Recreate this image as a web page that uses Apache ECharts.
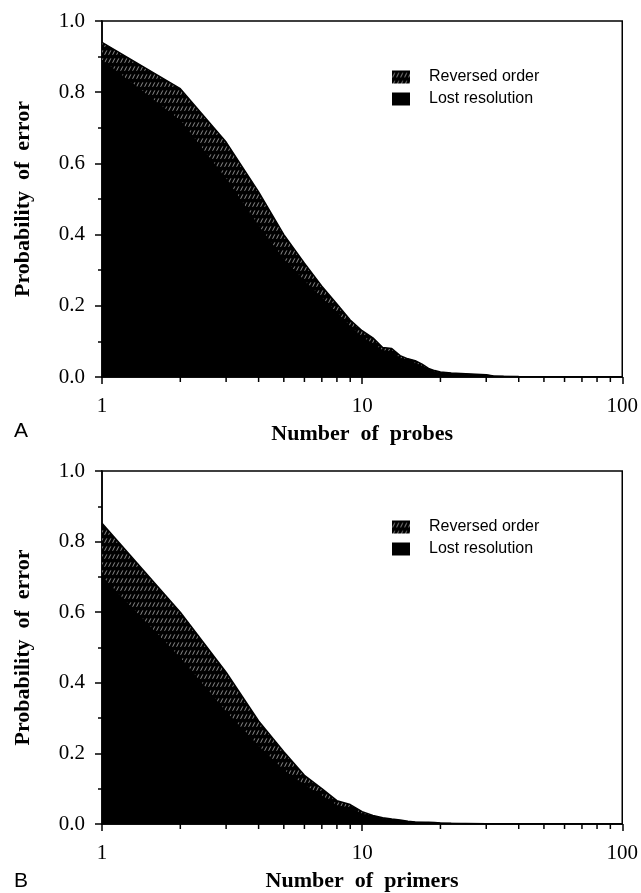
<!DOCTYPE html>
<html><head><meta charset="utf-8">
<script src="https://cdn.jsdelivr.net/npm/echarts@6/dist/echarts.min.js"></script>
<style>html,body{margin:0;padding:0;background:#fff}#c{width:641px;height:893px}</style>
</head><body><div id="c"></div>
<script>
// ---- data ----
const nValues      = [1,2,3,4,5,6,7,8,9,10,11,12,13,14,15,16,17,18,19,20,22,25,30,32,35,40,50,60,70,80,90,100];
const probesTotal  = [0.94,0.81,0.66,0.52,0.40,0.32,0.255,0.205,0.16,0.13,0.11,0.083,0.08,0.06,0.051,0.046,0.036,0.024,0.018,0.014,0.011,0.009,0.006,0.003,0.002,0.0015,0.001,0.0008,0.0006,0.0005,0.0005,0.0004];
const probesLost   = [0.89,0.72,0.556,0.424,0.33,0.27,0.222,0.18,0.142,0.112,0.093,0.074,0.07,0.053,0.044,0.038,0.03,0.02,0.015,0.012,0.01,0.008,0.0055,0.0028,0.0018,0.0014,0.0009,0.0007,0.0005,0.0004,0.0004,0.0003];
const primersTotal = [0.852,0.60,0.43,0.292,0.205,0.138,0.10,0.066,0.055,0.035,0.024,0.018,0.014,0.011,0.008,0.006,0.005,0.005,0.004,0.003,0.002,0.0015,0.001,0.001,0.0009,0.0008,0.0007,0.0006,0.0005,0.0005,0.0004,0.0004];
const primersLost  = [0.70,0.47,0.317,0.22,0.152,0.11,0.08,0.052,0.045,0.028,0.02,0.015,0.012,0.009,0.007,0.005,0.0045,0.004,0.0035,0.0025,0.0018,0.0012,0.0009,0.0008,0.0007,0.0006,0.0005,0.0005,0.0004,0.0004,0.0003,0.0003];
const xMinorTicks  = [2,3,4,5,6,7,8,9,20,30,40,50,60,70,80,90];
const seriesNames  = ['Reversed order','Lost resolution'];
const xTitles      = ['Number  of  probes','Number  of  primers'];
const yTitle       = 'Probability  of  error';
const panelLetters = ['A','B'];

// ---- hatch pattern ----
function makeHatch(){
  const c = document.createElement('canvas'); c.width = 4; c.height = 8;
  const g = c.getContext('2d');
  g.fillStyle = '#000'; g.fillRect(0,0,4,8);
  g.strokeStyle = 'rgba(255,255,255,0.7)'; g.lineWidth = 0.8;
  g.beginPath(); g.moveTo(0.6,6.8); g.lineTo(2.8,2.4); g.stroke();
  return c;
}
const hatch = {image: makeHatch(), repeat: 'repeat'};

function pairs(xs, ys){ return xs.map((x,i)=>[x, ys[i]]); }

const serif = 'Liberation Serif';
const grids = [
  {left:102, top:21, width:524, height:356, show:true, borderColor:'#000', borderWidth:1.5, backgroundColor:'transparent'},
  {left:102, top:471, width:524, height:357, show:true, borderColor:'#000', borderWidth:1.5, backgroundColor:'transparent'}
];
function xAxis(i){
  return {type:'log', logBase:10, min:1, max:100, gridIndex:i,
    axisLine:{show:true, lineStyle:{color:'#000', width:1.5}},
    axisTick:{show:true, length:7, lineStyle:{color:'#000', width:1.5}},
    axisLabel:{color:'#000', fontFamily:serif, fontSize:21, margin:19},
    splitLine:{show:false}, minorTick:{show:false},
    name:xTitles[i], nameLocation:'middle', nameGap:46,
    nameTextStyle:{color:'#000', fontFamily:serif, fontWeight:'bold', fontSize:22}};
}
function yAxis(i){
  return {type:'value', min:0, max:1, interval:0.2, gridIndex:i,
    axisLine:{show:true, lineStyle:{color:'#000', width:1.5}},
    axisTick:{show:true, length:7, lineStyle:{color:'#000', width:1.5}},
    minorTick:{show:true, splitNumber:2, length:4, lineStyle:{color:'#000', width:1.5}},
    axisLabel:{color:'#000', fontFamily:serif, fontSize:21, margin:17, formatter:v=>v.toFixed(1)},
    splitLine:{show:false}, minorSplitLine:{show:false},
    name:yTitle, nameLocation:'middle', nameGap:68, nameRotate:90,
    nameTextStyle:{color:'#000', fontFamily:serif, fontWeight:'bold', fontSize:22}};
}
// total (hatched) drawn first, lost resolution (solid black) drawn over it
function areaPair(i, xs, lost, total){
  return [
    {name:seriesNames[0], type:'line', xAxisIndex:i, yAxisIndex:i,
     data:pairs(xs, total), showSymbol:false, symbol:'none', color:'#000',
     lineStyle:{color:'#000', width:1.5}, areaStyle:{color:hatch, opacity:1, origin:'start'}, z:2},
    {name:seriesNames[1], type:'line', xAxisIndex:i, yAxisIndex:i,
     data:pairs(xs, lost), showSymbol:false, symbol:'none', color:'#000',
     lineStyle:{color:'#000', width:1}, areaStyle:{color:'#000', opacity:1, origin:'start'}, z:3}
  ];
}
function minorTickSeries(i){
  return {type:'custom', xAxisIndex:i, yAxisIndex:i, silent:true, clip:false, z:5,
    data:xMinorTicks.map(v=>[v,0]),
    renderItem:(params, api)=>{
      const p = api.coord([api.value(0), 0]);
      return {type:'line', shape:{x1:p[0], y1:p[1], x2:p[0], y2:p[1]+5}, style:{stroke:'#000', lineWidth:1.5}};
    }};
}
function legend(top){
  return {orient:'vertical', left:392, top:top, padding:0, itemWidth:18, itemHeight:13, itemGap:6,
    icon:'rect', selectedMode:false,
    textStyle:{color:'#000', fontFamily:'Liberation Sans', fontSize:16, padding:[0,0,0,14]},
    data:[{name:seriesNames[0], itemStyle:{color:hatch, borderWidth:0}},
          {name:seriesNames[1], itemStyle:{color:'#000', borderWidth:0}}]};
}

const chart = echarts.init(document.getElementById('c'), null, {renderer:'canvas'});
chart.setOption({
  animation:false,
  backgroundColor:'#fff',
  grid:grids,
  xAxis:[xAxis(0), xAxis(1)],
  yAxis:[yAxis(0), yAxis(1)],
  legend:[legend(69), legend(519)],
  series:[
    ...areaPair(0, nValues, probesLost, probesTotal),
    ...areaPair(1, nValues, primersLost, primersTotal),
    minorTickSeries(0), minorTickSeries(1)
  ],
  graphic:[
    {type:'text', left:14, top:421, style:{text:panelLetters[0], font:'21px "Liberation Sans"', fill:'#000'}},
    {type:'text', left:14, top:871, style:{text:panelLetters[1], font:'21px "Liberation Sans"', fill:'#000'}}
  ]
});
</script></body></html>
